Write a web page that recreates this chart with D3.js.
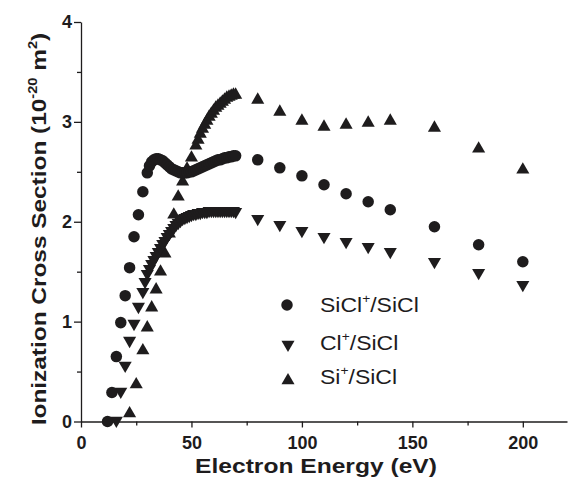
<!DOCTYPE html>
<html>
<head>
<meta charset="utf-8">
<script src="https://cdnjs.cloudflare.com/ajax/libs/d3/7.8.5/d3.min.js"></script>
<style>
  body { margin: 0; background: #fff; }
  svg { display: block; font-family: "Liberation Sans", Arial, sans-serif; }
</style>
</head>
<body>
<script>
// SiCl+/SiCl (circles)
const sicl_energy = [12, 14, 16, 18, 20, 22, 24, 26, 28, 30,
  31, 32, 33, 34, 35, 36, 37, 38, 39, 40, 41, 42, 43, 44, 45, 46, 47, 48, 49, 50,
  51, 52, 53, 54, 55, 56, 57, 58, 59, 60, 61, 62, 63, 64, 65, 66, 67, 68, 69, 70,
  80, 90, 100, 110, 120, 130, 140, 160, 180, 200];
const sicl_values = [0.00, 0.29, 0.65, 0.99, 1.26, 1.54, 1.85, 2.07, 2.30, 2.49,
  2.56, 2.60, 2.62, 2.63, 2.63, 2.62, 2.61, 2.59, 2.57, 2.55, 2.53, 2.52, 2.51, 2.50, 2.49, 2.49, 2.49, 2.49, 2.50, 2.50,
  2.51, 2.52, 2.53, 2.54, 2.55, 2.56, 2.57, 2.58, 2.59, 2.60, 2.61, 2.62, 2.62, 2.63, 2.64, 2.64, 2.65, 2.65, 2.66, 2.66,
  2.62, 2.54, 2.46, 2.37, 2.28, 2.20, 2.12, 1.95, 1.77, 1.60];

// Cl+/SiCl (down triangles)
const cl_energy = [16, 18, 20, 22, 24, 26, 28, 29, 30,
  31, 32, 33, 34, 35, 36, 37, 38, 39, 40, 41, 42, 43, 44, 45, 46, 47, 48, 49, 50,
  51, 52, 53, 54, 55, 56, 57, 58, 59, 60, 61, 62, 63, 64, 65, 66, 67, 68, 69, 70,
  80, 90, 100, 110, 120, 130, 140, 160, 180, 200];
const cl_values = [0.01, 0.30, 0.56, 0.81, 0.98, 1.15, 1.30, 1.40, 1.48,
  1.53, 1.58, 1.62, 1.66, 1.70, 1.74, 1.78, 1.81, 1.85, 1.88, 1.91, 1.94, 1.97, 1.99, 2.01, 2.03, 2.04, 2.05, 2.06, 2.07,
  2.08, 2.08, 2.09, 2.09, 2.10, 2.10, 2.10, 2.11, 2.11, 2.11, 2.11, 2.11, 2.11, 2.11, 2.11, 2.11, 2.11, 2.11, 2.11, 2.10,
  2.03, 1.97, 1.91, 1.85, 1.80, 1.75, 1.70, 1.60, 1.49, 1.37];

// Si+/SiCl (up triangles)
const si_energy = [22, 25, 28, 30, 32, 34, 36, 38, 40, 42, 44, 46, 48, 50, 52,
  53, 54, 55, 56, 57, 58, 59, 60, 61, 62, 63, 64, 65, 66, 67, 68, 69, 70,
  80, 90, 100, 110, 120, 130, 140, 160, 180, 200];
const si_values = [0.08, 0.37, 0.71, 0.94, 1.14, 1.32, 1.50, 1.68, 1.88, 2.07, 2.25, 2.40, 2.53, 2.64, 2.76,
  2.82, 2.88, 2.93, 2.97, 3.01, 3.05, 3.08, 3.11, 3.14, 3.16, 3.18, 3.20, 3.22, 3.24, 3.25, 3.26, 3.27, 3.27,
  3.22, 3.10, 3.01, 2.95, 2.97, 2.99, 3.01, 2.94, 2.73, 2.52];

const xTicks = [0, 50, 100, 150, 200];
const xMinor = [25, 75, 125, 175];
const yTicks = [0, 1, 2, 3, 4];
const yMinor = [0.5, 1.5, 2.5, 3.5];

const ink = '#1e1c1d';
const width = 568, height = 480;

const svg = d3.select('body')
  .append('svg')
  .attr('width', width)
  .attr('height', height);

const x = d3.scaleLinear().domain([0, 220]).range([81, 567]);
const y = d3.scaleLinear().domain([0, 4]).range([421.5, 22]);

// minor ticks first, no labels
svg.append('g')
  .attr('transform', 'translate(0,' + y(0) + ')')
  .call(d3.axisBottom(x).tickValues(xMinor).tickSize(4).tickFormat(''))
  .call(g => g.select('.domain').remove());
svg.append('g')
  .attr('transform', 'translate(' + x(0) + ',0)')
  .call(d3.axisLeft(y).tickValues(yMinor).tickSize(4).tickFormat(''))
  .call(g => g.select('.domain').remove());

svg.append('g')
  .attr('id', 'x-axis')
  .attr('transform', 'translate(0,' + y(0) + ')')
  .call(d3.axisBottom(x).tickValues(xTicks).tickFormat(d3.format('d'))
    .tickSize(6).tickSizeOuter(0).tickPadding(9));

svg.append('g')
  .attr('id', 'y-axis')
  .attr('transform', 'translate(' + x(0) + ',0)')
  .call(d3.axisLeft(y).tickValues(yTicks).tickFormat(d3.format('d'))
    .tickSize(7).tickSizeOuter(0).tickPadding(2));

svg.selectAll('.tick line, .domain')
  .attr('stroke', ink)
  .attr('stroke-width', 1.3);
svg.selectAll('.tick text')
  .attr('fill', ink)
  .attr('font-size', 18)
  .attr('font-weight', 'bold')
  .attr('font-family', '"Liberation Sans", Arial, sans-serif');

// markers
const circle = d3.symbol().type(d3.symbolCircle).size(104);
const tri = d3.symbol().type(d3.symbolTriangle).size(74);

const plot = svg.append('g').attr('fill', ink);

const drawSeries = (energy, values, path, rot) => {
  plot.append('g')
    .selectAll('path')
    .data(energy.map((e, i) => [e, values[i]]))
    .enter()
    .append('path')
    .attr('d', path)
    .attr('transform', d => 'translate(' + x(d[0]) + ',' + y(d[1]) + ')' + (rot ? ' rotate(180)' : ''));
};

drawSeries(si_energy, si_values, tri, false);
drawSeries(cl_energy, cl_values, tri, true);
drawSeries(sicl_energy, sicl_values, circle, false);

// legend
const legend = svg.append('g').attr('fill', ink);
const legendItems = [
  { path: circle, rot: false, mx: 287, my: 305, ty: 311.5, name: 'SiCl', sup: '+', rest: '/SiCl' },
  { path: tri, rot: true, mx: 288, my: 344.5, ty: 350, name: 'Cl', sup: '+', rest: '/SiCl' },
  { path: tri, rot: false, mx: 288, my: 380.5, ty: 383.5, name: 'Si', sup: '+', rest: '/SiCl' }
];
legendItems.forEach(d => {
  legend.append('path')
    .attr('d', d.path)
    .attr('transform', 'translate(' + d.mx + ',' + d.my + ')' + (d.rot ? ' rotate(180)' : ''));
  const t = legend.append('text')
    .attr('transform', 'translate(320,' + d.ty + ') scale(1.15,1)')
    .attr('font-size', 20);
  t.append('tspan').text(d.name);
  t.append('tspan').attr('font-size', 12).attr('dy', -9).text(d.sup);
  t.append('tspan').attr('dy', 9).text(d.rest);
});

// axis titles
svg.append('text')
  .attr('transform', 'translate(316,473) scale(1.2,1)')
  .attr('text-anchor', 'middle')
  .attr('font-size', 20.5)
  .attr('font-weight', 'bold')
  .attr('fill', ink)
  .text('Electron Energy (eV)');

const yTitle = svg.append('text')
  .attr('transform', 'translate(46,229) rotate(-90) scale(1.22,1)')
  .attr('text-anchor', 'middle')
  .attr('font-size', 20)
  .attr('font-weight', 'bold')
  .attr('fill', ink);
yTitle.append('tspan').text('Ionization Cross Section (10');
yTitle.append('tspan').attr('font-size', 12).attr('dy', -9).text('-20');
yTitle.append('tspan').attr('dy', 9).text(' m');
yTitle.append('tspan').attr('font-size', 12).attr('dy', -9).text('2');
yTitle.append('tspan').attr('dy', 9).text(')');
</script>
</body>
</html>
